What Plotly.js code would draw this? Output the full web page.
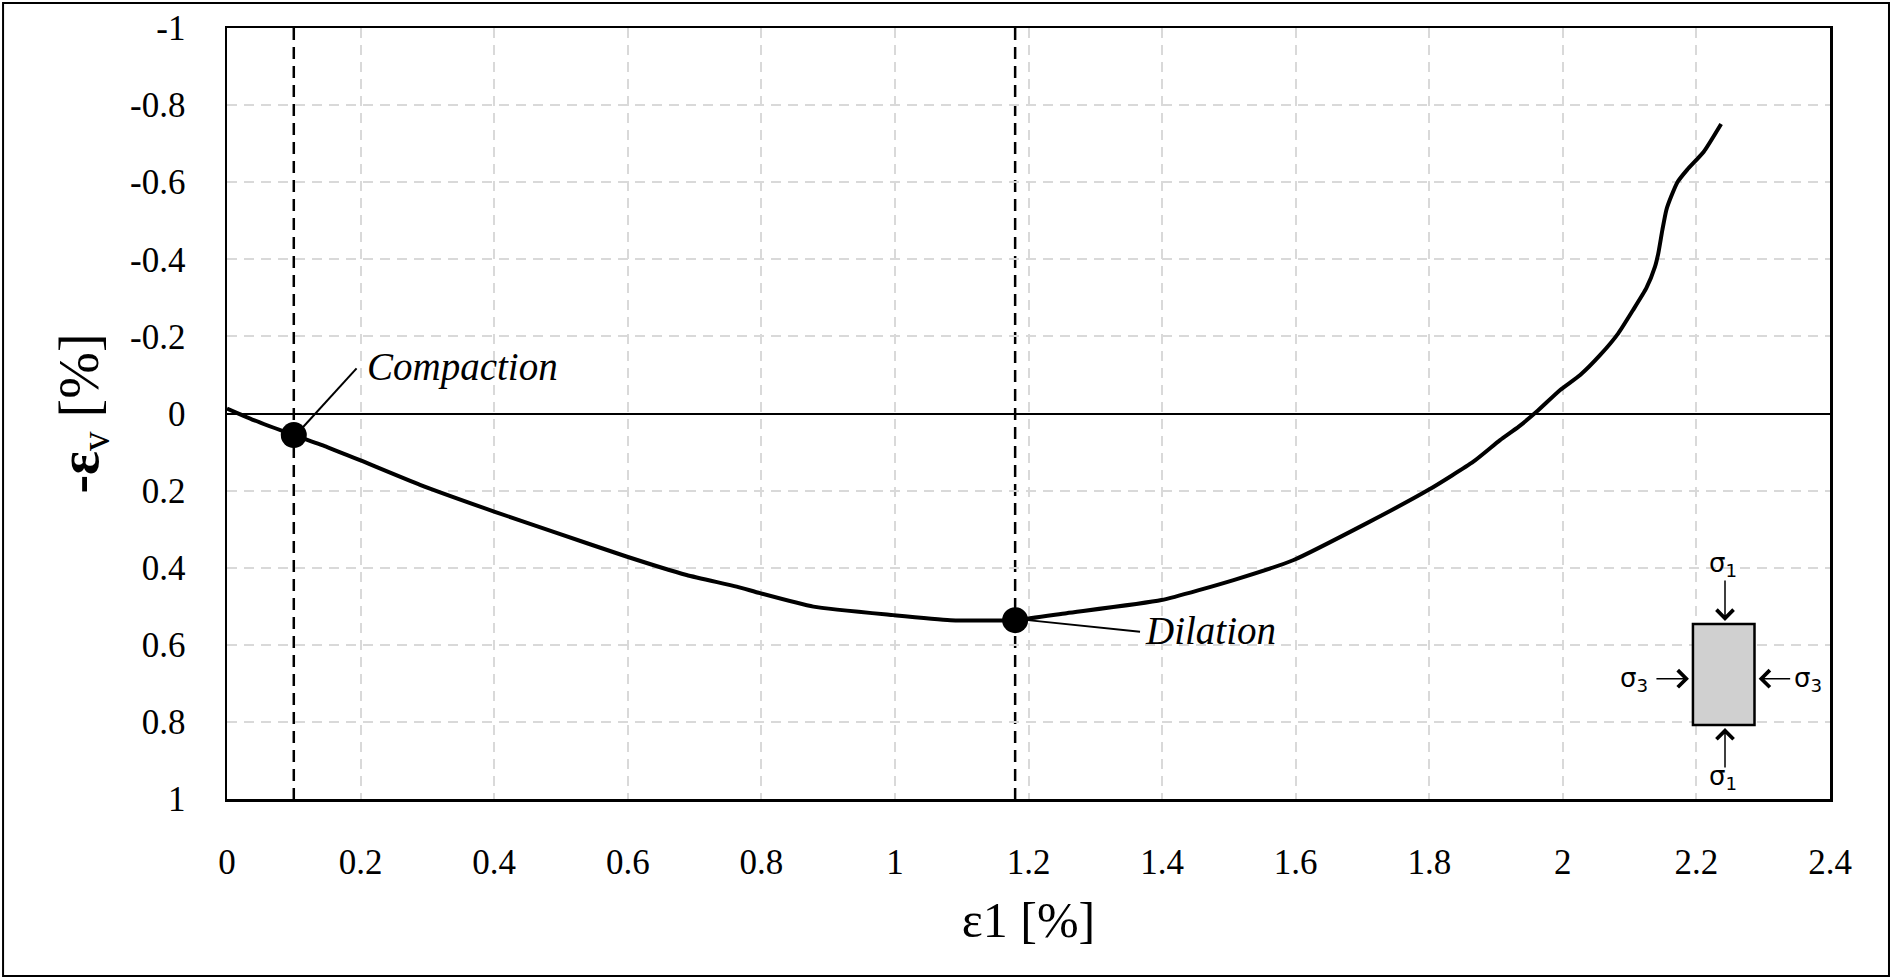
<!DOCTYPE html>
<html>
<head>
<meta charset="utf-8">
<script src="https://cdn.plot.ly/plotly-3.0.1.min.js"></script>
<style>
  html, body { margin: 0; padding: 0; background: #fff; }
  #chart { width: 1892px; height: 980px; }
</style>
</head>
<body>
<div id="chart"></div>
<script>
// Axial strain eps1 [%]
const strainAxial = [0.000, 0.040, 0.100, 0.150, 0.199, 0.289, 0.401, 0.489, 0.598, 0.688, 0.763, 0.798, 0.878, 0.998, 1.083, 1.180, 1.257, 1.399, 1.507, 1.597, 1.706, 1.799, 1.866, 1.906, 1.934, 1.961, 1.996, 2.026, 2.056, 2.083, 2.105, 2.125, 2.138, 2.143, 2.149, 2.155, 2.162, 2.172, 2.186, 2.211, 2.237];
// Volumetric strain -epsv [%]
const strainVolumetric = [-0.013, 0.017, 0.056, 0.087, 0.121, 0.185, 0.255, 0.307, 0.371, 0.419, 0.449, 0.466, 0.501, 0.523, 0.536, 0.536, 0.518, 0.484, 0.432, 0.380, 0.285, 0.198, 0.125, 0.069, 0.034, -0.005, -0.061, -0.100, -0.152, -0.208, -0.268, -0.325, -0.381, -0.416, -0.476, -0.528, -0.562, -0.601, -0.632, -0.679, -0.751];

// Characteristic points
const pointNames = ["Compaction", "Dilation"];
const pointX = [0.100, 1.180];
const pointY = [0.056, 0.536];

// Ticks
const xTickVals = [0, 0.2, 0.4, 0.6, 0.8, 1, 1.2, 1.4, 1.6, 1.8, 2, 2.2, 2.4];
const xTickText = ["0", "0.2", "0.4", "0.6", "0.8", "1", "1.2", "1.4", "1.6", "1.8", "2", "2.2", "2.4"];
const yTickVals = [-1, -0.8, -0.6, -0.4, -0.2, 0, 0.2, 0.4, 0.6, 0.8, 1];
const yTickText = ["-1", "-0.8", "-0.6", "-0.4", "-0.2", "0", "0.2", "0.4", "0.6", "0.8", "1"];

const serif = "Liberation Serif";
const sans = "DejaVu Sans";

const traces = [
  {
    x: strainAxial, y: strainVolumetric,
    type: "scatter", mode: "lines",
    line: { color: "#000", width: 4, shape: "spline", smoothing: 0.5 },
    hoverinfo: "skip", showlegend: false
  },
  {
    x: pointX, y: pointY, text: pointNames,
    type: "scatter", mode: "markers",
    marker: { color: "#000", size: 26 },
    showlegend: false
  }
];

const shapes = [];
// vertical dashed lines through characteristic points
pointX.forEach(px => {
  shapes.push({
    type: "line", xref: "x", yref: "y", x0: px, x1: px, y0: -1, y1: 1,
    layer: "below", line: { color: "#000", width: 2.5, dash: "12px,7px" }
  });
});
// leader lines
shapes.push({ type: "line", xref: "x", yref: "y", x0: 0.114, y0: 0.035, x1: 0.194, y1: -0.117, line: { color: "#000", width: 2 } });
shapes.push({ type: "line", xref: "x", yref: "y", x0: 1.199, y0: 0.536, x1: 1.367, y1: 0.566, line: { color: "#000", width: 2 } });
// specimen sketch
shapes.push({ type: "rect", xref: "paper", yref: "paper", x0: 0.9145, x1: 0.9529, y0: 0.096, y1: 0.227,
  fillcolor: "#d0d0d0", line: { color: "#000", width: 2.5 } });
// outer frame
shapes.push({ type: "rect", xref: "paper", yref: "paper", x0: -0.1397, x1: 1.0368, y0: -0.2296, y1: 1.0324,
  fillcolor: "rgba(0,0,0,0)", line: { color: "#000", width: 2 } });

const arrowStyle = { showarrow: true, arrowhead: 4, arrowsize: 2.2, arrowwidth: 1.5, arrowcolor: "#000", text: "", xref: "paper", yref: "paper" };
const sigmaFont = { family: sans, size: 26, color: "#000" };
const annotations = [
  { text: "<i>" + pointNames[0] + "</i>", xref: "x", yref: "y", x: 0.207, y: -0.121, xanchor: "left", yanchor: "middle",
    showarrow: false, font: { family: serif, size: 39, color: "#000" } },
  { text: "<i>" + pointNames[1] + "</i>", xref: "x", yref: "y", x: 1.371, y: 0.562, xanchor: "left", yanchor: "middle",
    showarrow: false, font: { family: serif, size: 39, color: "#000" } },
  Object.assign({}, arrowStyle, { x: 0.9345, y: 0.231, ax: 0, ay: -42 }),
  Object.assign({}, arrowStyle, { x: 0.9345, y: 0.092, ax: 0, ay: 41 }),
  Object.assign({}, arrowStyle, { x: 0.912, y: 0.156, ax: -34, ay: 0 }),
  Object.assign({}, arrowStyle, { x: 0.9555, y: 0.156, ax: 33, ay: 0 }),
  { text: "σ<sub>1</sub>", xref: "paper", yref: "paper", x: 0.9435, y: 0.280, showarrow: false, font: sigmaFont },
  { text: "σ<sub>1</sub>", xref: "paper", yref: "paper", x: 0.9435, y: 0.004, showarrow: false, font: sigmaFont },
  { text: "σ<sub>3</sub>", xref: "paper", yref: "paper", x: 0.888, y: 0.131, showarrow: false, font: sigmaFont },
  { text: "σ<sub>3</sub>", xref: "paper", yref: "paper", x: 0.996, y: 0.131, showarrow: false, font: sigmaFont }
];

const layout = {
  width: 1892, height: 980,
  font: { family: serif, color: "#000" },
  margin: { l: 227, r: 62, t: 28, b: 181, pad: 0 },
  paper_bgcolor: "#fff", plot_bgcolor: "#fff",
  showlegend: false,
  xaxis: {
    range: [0, 2.4], tickmode: "array", tickvals: xTickVals, ticktext: xTickText,
    showline: true, mirror: true, linecolor: "#000", linewidth: 2.5,
    showgrid: true, gridcolor: "#d9d9d9", gridwidth: 2, griddash: "10px,7px",
    zeroline: false, ticks: "", ticklabelstandoff: 30,
    tickfont: { family: serif, size: 35, color: "#000" },
    title: { text: "ε1 [%]", font: { family: serif, size: 50, color: "#000" }, standoff: 22 },
    automargin: false
  },
  yaxis: {
    range: [1, -1], tickmode: "array", tickvals: yTickVals, ticktext: yTickText,
    showline: true, mirror: true, linecolor: "#000", linewidth: 2.5,
    showgrid: true, gridcolor: "#d9d9d9", gridwidth: 2, griddash: "10px,7px",
    zeroline: true, zerolinecolor: "#000", zerolinewidth: 2,
    ticks: "", ticklabelstandoff: 32,
    tickfont: { family: serif, size: 35, color: "#000" },
    title: { text: "<b>-ε</b><sub>v</sub> [%]", font: { family: serif, size: 56, color: "#000" }, standoff: 14 },
    automargin: false
  },
  shapes: shapes,
  annotations: annotations
};

Plotly.newPlot("chart", traces, layout, { displayModeBar: false, staticPlot: true });
</script>
</body>
</html>
